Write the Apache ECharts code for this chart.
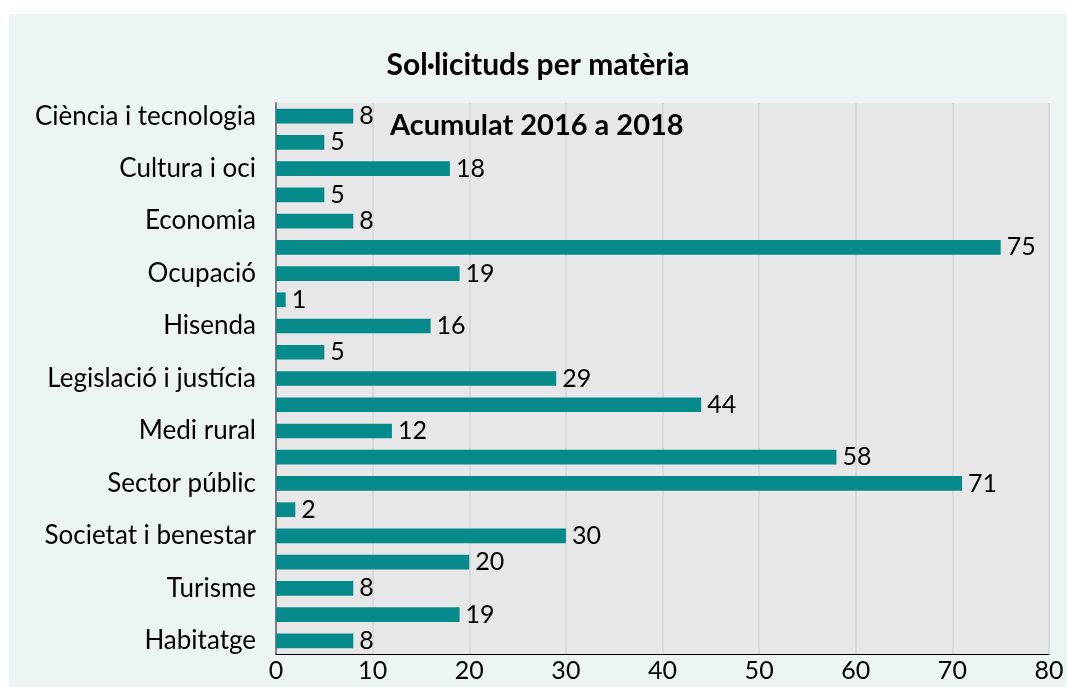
<!DOCTYPE html>
<html>
<head>
<meta charset="utf-8">
<script src="https://cdn.jsdelivr.net/npm/echarts@6/dist/echarts.min.js"></script>
<style>
  html, body { margin: 0; padding: 0; background: #ffffff; }
  #chart { position: absolute; left: 9px; top: 14px; width: 1058px; height: 673px; }
</style>
</head>
<body>
<div id="chart"></div>
<script>
// categories (only every other row carries a label in the original)
var categories = ['Ciència i tecnologia', '', 'Cultura i oci', '', 'Economia', '', 'Ocupació', '', 'Hisenda', '',
    'Legislació i justícia', '', 'Medi rural', '', 'Sector públic', '', 'Societat i benestar', '', 'Turisme', '', 'Habitatge'];
var values = [8, 5, 18, 5, 8, 75, 19, 1, 16, 5, 29, 44, 12, 58, 71, 2, 30, 20, 8, 19, 8];
var xTicks = [0, 10, 20, 30, 40, 50, 60, 70, 80];

var chart = echarts.init(document.getElementById('chart'));
var font = 'Lato, "Open Sans", sans-serif';

var option = {
    backgroundColor: '#edf5f4',
    textStyle: { fontFamily: font },
    title: {
        text: 'Sol·licituds per matèria',
        left: 'center',
        top: 31,
        textStyle: { fontSize: 30, fontWeight: 'bold', color: '#000', fontFamily: font }
    },
    graphic: [{
        type: 'text',
        left: 381,
        top: 97,
        z: 10,
        style: {
            text: 'Acumulat 2016 a 2018',
            fill: '#000',
            font: 'bold 29px ' + font
        }
    }],
    grid: {
        left: 267,
        top: 89,
        right: 18,
        bottom: 33,
        show: true,
        backgroundColor: '#e7e7e7',
        borderWidth: 0
    },
    xAxis: {
        type: 'value',
        min: xTicks[0],
        max: xTicks[xTicks.length - 1],
        interval: 10,
        axisLine: { show: true, lineStyle: { color: '#000', width: 1 } },
        axisTick: { show: false },
        splitLine: { show: true, lineStyle: { color: '#d6d6d6', width: 1.5 } },
        axisLabel: { color: '#000', fontSize: 25, margin: 4, fontFamily: font }
    },
    yAxis: {
        type: 'category',
        inverse: true,
        data: categories,
        axisLine: { show: true, lineStyle: { color: '#7f7f7f', width: 2 } },
        axisTick: { show: false },
        axisLabel: { interval: 0, color: '#000', fontSize: 26, margin: 20, fontFamily: font }
    },
    series: [{
        type: 'bar',
        data: values,
        barCategoryGap: '44%',
        itemStyle: { color: '#078a8b' },
        label: {
            show: true,
            position: 'right',
            distance: 6,
            color: '#000',
            fontSize: 25,
            fontFamily: font
        },
        animation: false
    }]
};
chart.setOption(option);
</script>
</body>
</html>
